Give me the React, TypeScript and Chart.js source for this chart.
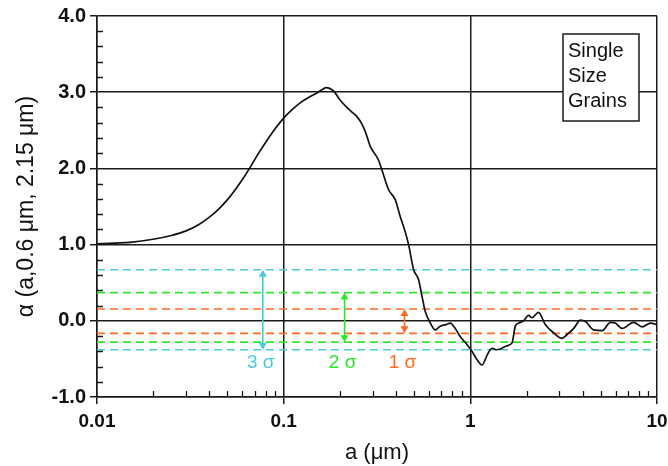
import React, { useEffect, useRef } from 'react';
import { Chart, registerables } from 'chart.js';

Chart.register(...registerables);

// ---- data ----
const grainSizes = [
  0.01, 0.0125, 0.015, 0.02, 0.025, 0.03, 0.035, 0.04, 0.045, 0.05, 0.055, 0.06, 0.066, 0.073,
  0.081, 0.09, 0.1, 0.111, 0.1225, 0.136, 0.1507, 0.162, 0.169, 0.176, 0.186, 0.2, 0.218, 0.232,
  0.247, 0.26, 0.274, 0.291, 0.322, 0.336, 0.365, 0.396, 0.421, 0.445, 0.467, 0.497, 0.528, 0.551, 0.574,
  0.611, 0.649, 0.69, 0.74, 0.78, 0.83, 0.884, 0.959, 1.02, 1.08, 1.156, 1.23, 1.307, 1.38, 1.448,
  1.56, 1.672, 1.742, 1.816, 1.93, 2.05, 2.14, 2.32, 2.52, 2.8, 3.1, 3.3, 3.58, 3.89, 4.14, 4.58,
  5.08, 5.63, 5.98, 6.5, 7.5, 8.32, 9.23, 10,
];
const alphaValues = [
  1.01, 1.02, 1.03, 1.07, 1.12, 1.18, 1.26, 1.36, 1.47, 1.59, 1.72, 1.85, 2.01, 2.19,
  2.36, 2.52, 2.66, 2.77, 2.86, 2.93, 2.99, 3.04, 3.06, 3.05, 3.01, 2.9, 2.8, 2.74,
  2.68, 2.6, 2.48, 2.29, 2.11, 1.98, 1.72, 1.59, 1.37, 1.19, 1.0, 0.67, 0.54, 0.32, 0.12,
  -0.03, -0.12, -0.07, -0.05, -0.03, -0.1, -0.21, -0.31, -0.4, -0.5, -0.58, -0.45, -0.36, -0.38, -0.37,
  -0.33, -0.29, -0.07, -0.03, 0.0, 0.07, 0.04, 0.11, -0.05, -0.16, -0.23, -0.18, -0.1, 0.01, -0.01, -0.12,
  -0.13, -0.02, -0.03, -0.1, -0.02, -0.08, -0.03, -0.05,
];

const xDecades = [0.01, 0.1, 1, 10];
const xTickLabels = ['0.01', '0.1', '1', '10'];
const yMajorTicks = [-1, 0, 1, 2, 3, 4];
const xMinorMultipliers = [2, 3, 4, 5, 6, 7, 8, 9];

const sigmaNames = ['3 σ', '2 σ', '1 σ'];
const sigmaUpper = [0.67, 0.37, 0.155];
const sigmaLower = [-0.38, -0.28, -0.165];
const sigmaArrowA = [0.0773, 0.212, 0.444];
const sigmaLabelY = -0.55;
const sigmaColors = ['#48cad8', '#2ee62e', '#ff6a22'];

const legendLines = ['Single', 'Size', 'Grains'];

const xTitle = 'a (μm)';
const yTitle = 'α (a,0.6 μm, 2.15 μm)';

const FONT = '"Liberation Sans", Arial, Helvetica, sans-serif';

const decoPlugin = {
  id: 'deco',
  afterDatasetsDraw(chart: any) {
    const { ctx, chartArea } = chart;
    const xs = chart.scales.x;
    const ys = chart.scales.y;
    ctx.save();
    // minor ticks (inward)
    ctx.strokeStyle = '#1a1a1a';
    ctx.lineWidth = 1.3;
    ctx.beginPath();
    for (let d = 0; d < xDecades.length - 1; d++) {
      for (const m of xMinorMultipliers) {
        const px = Math.round(xs.getPixelForValue(xDecades[d] * m)) + 0.5;
        ctx.moveTo(px, chartArea.bottom);
        ctx.lineTo(px, chartArea.bottom - 6);
      }
    }
    for (let k = 0; k <= 25; k++) {
      const v = -1 + k * 0.2;
      if (Math.abs(v - Math.round(v)) < 1e-6) continue;
      const py = Math.round(ys.getPixelForValue(v)) + 0.5;
      ctx.moveTo(chartArea.left, py);
      ctx.lineTo(chartArea.left + 6, py);
    }
    ctx.stroke();

    // sigma arrows and labels
    for (let i = 0; i < sigmaNames.length; i++) {
      const px = xs.getPixelForValue(sigmaArrowA[i]);
      const yt = ys.getPixelForValue(sigmaUpper[i]);
      const yb = ys.getPixelForValue(sigmaLower[i]);
      ctx.strokeStyle = sigmaColors[i];
      ctx.fillStyle = sigmaColors[i];
      ctx.lineWidth = 1.6;
      ctx.beginPath();
      ctx.moveTo(px, yt + 5);
      ctx.lineTo(px, yb - 5);
      ctx.stroke();
      ctx.beginPath();
      ctx.moveTo(px, yt);
      ctx.lineTo(px - 4, yt + 7);
      ctx.lineTo(px + 4, yt + 7);
      ctx.closePath();
      ctx.fill();
      ctx.beginPath();
      ctx.moveTo(px, yb);
      ctx.lineTo(px - 4, yb - 7);
      ctx.lineTo(px + 4, yb - 7);
      ctx.closePath();
      ctx.fill();
      ctx.font = `19px ${FONT}`;
      ctx.textAlign = 'center';
      ctx.textBaseline = 'middle';
      ctx.fillText(sigmaNames[i], px - 2, ys.getPixelForValue(sigmaLabelY));
    }
    ctx.restore();
  },
  afterDraw(chart: any) {
    const { ctx, chartArea } = chart;
    ctx.save();
    const bx = chartArea.right - 94;
    const by = chartArea.top + 18;
    const bw = 76;
    const bh = 87;
    ctx.fillStyle = '#ffffff';
    ctx.fillRect(bx, by, bw, bh);
    ctx.strokeStyle = '#1a1a1a';
    ctx.lineWidth = 1.5;
    ctx.strokeRect(bx, by, bw, bh);
    ctx.fillStyle = '#111';
    ctx.font = `20px ${FONT}`;
    ctx.textAlign = 'left';
    ctx.textBaseline = 'middle';
    legendLines.forEach((t, i) => ctx.fillText(t, bx + 5, by + 17 + i * 25));
    ctx.restore();
  },
};

export default function App() {
  const ref = useRef<HTMLCanvasElement>(null);
  useEffect(() => {
    const curve = grainSizes.map((a, i) => ({ x: a, y: alphaValues[i] }));
    const dashed: any[] = [];
    for (let i = 0; i < sigmaNames.length; i++) {
      for (const v of [sigmaUpper[i], sigmaLower[i]]) {
        dashed.push({
          data: [
            { x: xDecades[0], y: v },
            { x: xDecades[xDecades.length - 1], y: v },
          ],
          borderColor: sigmaColors[i],
          borderWidth: 1.6,
          borderDash: [8, 5],
          pointRadius: 0,
        });
      }
    }
    const chart = new Chart(ref.current as HTMLCanvasElement, {
      type: 'line',
      data: {
        datasets: [
          {
            data: curve,
            borderColor: '#111',
            borderWidth: 1.7,
            pointRadius: 0,
            cubicInterpolationMode: 'monotone',
          } as any,
          ...dashed,
        ],
      },
      options: {
        animation: false,
        responsive: false,
        layout: { padding: { top: 16, right: 11, left: 0, bottom: 0 } },
        plugins: { legend: { display: false }, tooltip: { enabled: false } },
        scales: {
          x: {
            type: 'logarithmic',
            min: 0.01,
            max: 10,
            afterBuildTicks: (s: any) => {
              s.ticks = xDecades.map((v) => ({ value: v }));
            },
            afterFit: (s: any) => {
              s.height = 69;
              s.paddingLeft = 0;
              s.paddingRight = 0;
            },
            grid: { color: '#1a1a1a', lineWidth: 1.5, tickLength: 7 },
            border: { color: '#1a1a1a', width: 1.5 },
            ticks: {
              autoSkip: false,
              maxRotation: 0,
              padding: 6,
              color: '#111',
              font: { family: FONT, size: 19, weight: 'bold' },
              callback: (v: any) => {
                const idx = xDecades.findIndex((d) => Math.abs(d - Number(v)) / d < 1e-6);
                return idx >= 0 ? xTickLabels[idx] : '';
              },
            },
            title: {
              display: true,
              text: xTitle,
              color: '#111',
              font: { family: FONT, size: 22 },
              padding: { top: 0, bottom: 0 },
            },
          },
          y: {
            type: 'linear',
            min: -1,
            max: 4,
            afterBuildTicks: (s: any) => {
              s.ticks = yMajorTicks.map((v) => ({ value: v }));
            },
            afterFit: (s: any) => {
              s.width = 97;
              s.paddingTop = 0;
              s.paddingBottom = 0;
            },
            grid: { color: '#1a1a1a', lineWidth: 1.5, tickLength: 7 },
            border: { color: '#1a1a1a', width: 1.5 },
            ticks: {
              padding: 4,
              color: '#111',
              font: { family: FONT, size: 20, weight: 'bold' },
              callback: (v: any) => Number(v).toFixed(1),
            },
            title: {
              display: true,
              text: yTitle,
              color: '#111',
              font: { family: FONT, size: 23 },
              padding: { top: 13, bottom: 0 },
            },
          },
        },
      } as any,
      plugins: [decoPlugin],
    });
    return () => chart.destroy();
  }, []);
  return (
    <div style={{ position: 'absolute', left: 0, top: 0, width: 668, height: 466, background: '#fff' }}>
      <canvas ref={ref} width={668} height={466} style={{ display: 'block' }} />
    </div>
  );
}
